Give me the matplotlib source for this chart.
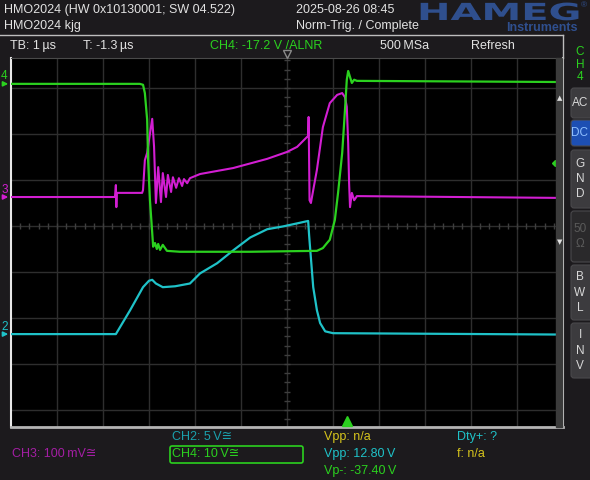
import matplotlib
matplotlib.use("Agg")
import matplotlib.pyplot as plt
import numpy as np
from matplotlib.patches import Rectangle, FancyBboxPatch, PathPatch
from matplotlib.textpath import TextPath
from matplotlib.font_manager import FontProperties
from matplotlib.transforms import Affine2D, blended_transform_factory

# --- channel settings ---
TB = 1.0            # us / div
CH2_SCALE, CH2_POS = 5.0, -2.35     # V/div, position (div)
CH3_SCALE, CH3_POS = 100.0, 0.63    # mV/div
CH4_SCALE, CH4_POS = 10.0, 3.09     # V/div
TRIG_LEVEL = -17.2                  # V on CH4
TRIG_POS = 1.3                      # us from screen centre

# --- traces (time in us, screen centre = 0) ---
ch4_t = [-6.0, -3.20, -3.13, -3.09, -3.04, -3.02, -2.98, -2.93, -2.91, -2.87, -2.83,
         -2.80, -2.76, -2.70, -2.61, -2.33, -0.80, 0.65, 0.78, 0.87, 0.93, 1.04, 1.11,
         1.20, 1.26, 1.30, 1.33, 1.37, 1.41, 1.46, 1.52, 6.0]
ch4_v = [0.0, 0.0, -0.2, -2.0, -7.8, -16.5, -25.2, -32.4, -35.4, -34.6, -35.9,
         -34.8, -36.1, -35.0, -36.3, -36.5, -36.5, -36.3, -35.7, -34.6, -33.9, -29.6, -23.7,
         -15.0, -5.7, 0.9, 2.8, 1.5, 0.2, 0.9, 0.65, 0.4]

ch3_t = [-6.0, -3.74, -3.72, -3.71, -3.70, -3.15, -3.13, -3.09, -3.04, -3.00, -2.93,
         -2.89, -2.85, -2.80, -2.74, -2.70, -2.63, -2.59, -2.52, -2.48, -2.41, -2.35,
         -2.28, -2.24, -2.17, -2.11, -1.89, -1.17, -0.43, 0.0, 0.22, 0.46, 0.47, 0.49,
         0.52, 0.57, 0.65, 0.78, 0.93, 1.09, 1.20, 1.26, 1.30, 1.33, 1.35, 1.37, 1.41,
         1.46, 1.52, 6.0]
ch3_mv = [0, 0, 26, -22, 9, 9, 15, 80, 96, 124, 170,
          109, -13, 65, -11, 52, 0, 48, 11, 43, 20, 41,
          24, 39, 30, 41, 50, 63, 83, 98, 109, 133, 174, -7,
          -13, 15, 59, 152, 204, 222, 226, 217, 196, 117, 30, -22, 9,
          -7, 2, -2]

ch2_t = [-6.0, -3.72, -3.41, -3.13, -3.00, -2.93, -2.85, -2.70, -2.43, -2.11, -1.89,
         -1.52, -1.17, -0.80, -0.43, -0.09, 0.28, 0.46, 0.48, 0.50, 0.57, 0.65, 0.72,
         0.83, 1.00, 6.0]
ch2_v = [0, 0, 2.6, 5.1, 5.8, 5.9, 5.5, 5.1, 5.2, 5.5, 6.6,
         7.7, 9.1, 10.5, 11.4, 11.7, 12.1, 12.3, 10.8, 9.5, 5.1, 2.6, 1.2,
         0.3, 0.1, -0.05]

BG = '#1c1a1d'
GRID = '#2e2e2e'
GREEN = '#2bd11f'
MAGENTA = '#d21ed2'
CYAN = '#1fc2c8'
YELLOW = '#d6c41c'
TXT = '#e2e2e2'
FONT = ['Liberation Sans', 'DejaVu Sans']

W, H = 590, 480
fig = plt.figure(figsize=(W / 100, H / 100), dpi=100, facecolor=BG)


def box(l, t, r, b):
    return [l / W, 1 - b / H, (r - l) / W, (b - t) / H]


# scope screen: 12 div wide, drawn in divisions
Y_TOP, Y_BOT = (226 - 58) / 46, (226 - 427) / 46
ax = fig.add_axes(box(11, 58, 563, 427))
ax.set_facecolor('black')
ax.set_xlim(-6 * TB, 6 * TB)
ax.set_ylim(Y_BOT, Y_TOP)
ax.set_xticks([])
ax.set_yticks([])
for i in range(-5, 6):
    ax.axvline(i * TB, color=GRID, lw=1, zorder=1)
for j in range(-4, 4):
    ax.axhline(j, color=GRID, lw=1, zorder=1)
tk = np.arange(-6, 6.01, 0.2)
ax.plot(tk * TB, np.zeros_like(tk), ls='none', marker='|', ms=4, color='#3e3e3e', zorder=1)
tk = np.arange(-4.4, 3.65, 0.2)
ax.plot(np.zeros_like(tk), tk, ls='none', marker='_', ms=4, color='#3e3e3e', zorder=1)
ax.spines['left'].set_color('#e8e8e8')
ax.spines['left'].set_linewidth(1.5)
ax.spines['bottom'].set_color('#b4b4b4')
ax.spines['bottom'].set_linewidth(2)
ax.spines['top'].set_color('#4a4a4a')
ax.spines['right'].set_color('#d0d0d0')
ax.spines['right'].set_linewidth(1.5)

ax.plot(ch2_t, CH2_POS + np.array(ch2_v) / CH2_SCALE, color=CYAN, lw=1.6, zorder=3)
ax.plot(ch3_t, CH3_POS + np.array(ch3_mv) / CH3_SCALE, color=MAGENTA, lw=1.5, zorder=3)
ax.plot(ch4_t, CH4_POS + np.array(ch4_v) / CH4_SCALE, color=GREEN, lw=1.6, zorder=4)

# channel reference markers on the left
tr = blended_transform_factory(ax.transAxes, ax.transData)
for name, pos, col in [('4', CH4_POS, GREEN), ('3', CH3_POS, MAGENTA), ('2', CH2_POS, CYAN)]:
    ax.annotate('', xy=(0.0, pos), xytext=(-0.02, pos), xycoords=tr,
                arrowprops=dict(arrowstyle='-|>', color=col, lw=1.2, mutation_scale=7),
                annotation_clip=False)
    ax.text(-0.018, pos + 0.03, name, transform=tr, color=col, fontsize=8.5,
            family=FONT, ha='left', va='bottom', clip_on=False)

# trigger level (right) and trigger position (bottom / top)
ax.plot([5.83 * TB], [CH4_POS + TRIG_LEVEL / CH4_SCALE], marker='D', ms=3, color=GREEN,
        ls='none', zorder=6, clip_on=False)
ax.plot([TRIG_POS], [Y_BOT + 0.12], marker='^', ms=7, color=GREEN, ls='none',
        zorder=6, clip_on=False)
ax.plot([0], [Y_TOP + 0.08], marker='v', ms=6, mfc='none', mec='#8a8a8a', ls='none',
        zorder=6, clip_on=False)

# overlay in pixel coordinates for the instrument frame
ov = fig.add_axes([0, 0, 1, 1], zorder=5)
ov.set_xlim(0, W)
ov.set_ylim(H, 0)
ov.axis('off')
ov.patch.set_alpha(0)

# scroll bar on right of screen
ov.add_patch(Rectangle((556, 58), 6, 369, color='#3b3b3b', zorder=2))
ov.text(559.5, 98, '\u25B2', color='#e0e0e0', fontsize=5, ha='center', va='center')
ov.text(559.5, 242, '\u25BC', color='#e0e0e0', fontsize=5, ha='center', va='center')
ov.plot([0, 563], [35, 35], color='#bdbdbd', lw=1)
ov.plot([563, 563], [35, 58], color='#bdbdbd', lw=1)

# header
kw = dict(family=FONT, fontsize=9, va='center', ha='left')
ov.text(4, 10, 'HMO2024 (HW 0x10130001; SW 04.522)', color=TXT, **kw)
ov.text(4, 26, 'HMO2024 kjg', color=TXT, **kw)
ov.text(296, 10, '2025-08-26 08:45', color=TXT, **kw)
ov.text(296, 26, 'Norm-Trig. / Complete', color=TXT, **kw)

logo_blue = '#2f4f8e'
tp = TextPath((0, 0), 'HAMEG', size=1, prop=FontProperties(family='DejaVu Sans', weight='bold'))
ov.add_patch(PathPatch(tp, transform=Affine2D().scale(40, -23.5).translate(417, 20) + ov.transData,
                       color=logo_blue, lw=0))
ov.text(578, 28, 'Instruments', color=logo_blue, family=FONT, fontsize=9, weight='bold',
        ha='right', va='center')
ov.text(584, 6, '\u00AE', color=logo_blue, family=FONT, fontsize=6, ha='center', va='center')

# info row
ov.text(10, 46, 'TB: 1\u2009\u00B5s', color=TXT, **kw)
ov.text(83, 46, 'T: -1.3\u2009\u00B5s', color=TXT, **kw)
ov.text(210, 46, 'CH4: -17.2 V /ALNR', color=GREEN, **kw)
ov.text(380, 46, '500\u2009MSa', color=TXT, **kw)
ov.text(471, 46, 'Refresh', color=TXT, **kw)

# side panel
for i, ch in enumerate('CH4'):
    ov.text(580, 52 + 12.5 * i, ch, color=GREEN, family=FONT, fontsize=8.5, ha='center', va='center')
buttons = [('AC', 88, 118, '#3c3b3e', '#d8d8d8'),
           ('DC', 120, 146, '#1d4fb3', '#8fc0ff'),
           ('G\nN\nD', 150, 208, '#3c3b3e', '#d8d8d8'),
           ('50\n\u03A9', 211, 262, '#2a292b', '#5a5a5a'),
           ('B\nW\nL', 265, 320, '#3c3b3e', '#d8d8d8'),
           ('I\nN\nV', 323, 378, '#3c3b3e', '#d8d8d8')]
for lab, y0, y1, fc, tc in buttons:
    ov.add_patch(FancyBboxPatch((571, y0), 25, y1 - y0, boxstyle='round,pad=0,rounding_size=3',
                                fc=fc, ec='#4a494c', lw=0.8))
    ov.text(580, (y0 + y1) / 2, lab, color=tc, family=FONT, fontsize=8.5, ha='center',
            va='center', linespacing=1.35)

# bottom status
ov.text(172, 437, 'CH2: 5\u2009V\u2245', color='#1aa0ac', **kw)
ov.text(12, 454, 'CH3: 100\u2009mV\u2245', color='#a41ea4', **kw)
ov.add_patch(FancyBboxPatch((170, 446), 133, 17, boxstyle='round,pad=0,rounding_size=2',
                            fc='none', ec=GREEN, lw=1.2))
ov.text(172, 454, 'CH4: 10\u2009V\u2245', color=GREEN, **kw)
ov.text(324, 437, 'Vpp: n/a', color=YELLOW, **kw)
ov.text(324, 454, 'Vpp: 12.80\u2009V', color=CYAN, **kw)
ov.text(324, 471, 'Vp-: -37.40\u2009V', color=GREEN, **kw)
ov.text(457, 437, 'Dty+: ?', color=CYAN, **kw)
ov.text(457, 454, 'f: n/a', color=YELLOW, **kw)

fig.savefig('out.png', dpi=100, facecolor=BG)
